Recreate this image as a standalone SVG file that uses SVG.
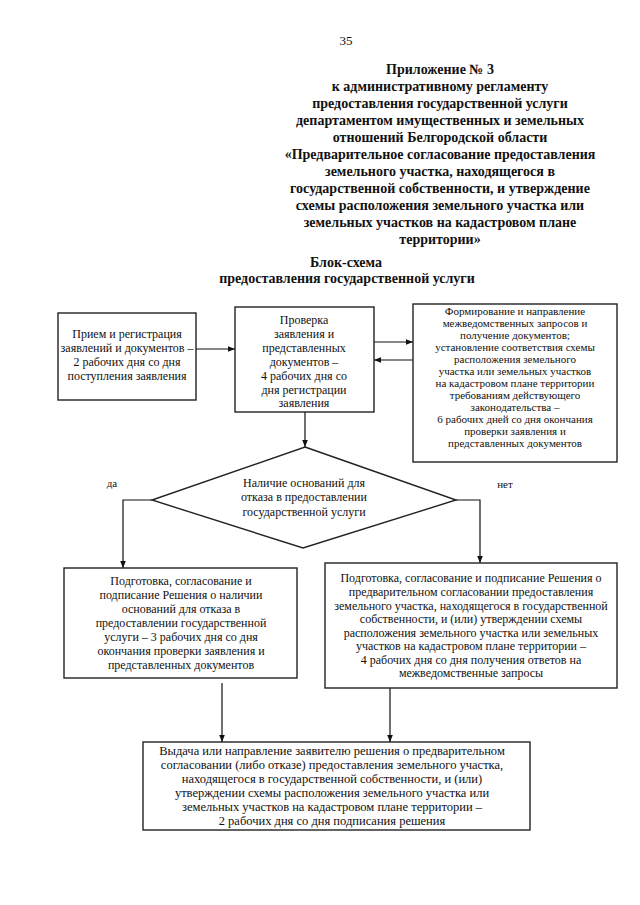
<svg xmlns="http://www.w3.org/2000/svg" width="640" height="905" viewBox="0 0 640 905">
<defs>
<marker id="ah" viewBox="0 0 10 10" refX="10" refY="5" markerWidth="7" markerHeight="7" orient="auto" markerUnits="userSpaceOnUse">
<path d="M0,1 L10,5 L0,9 z" fill="#111"/>
</marker>
<style>
.t{font-family:"Liberation Serif","Times New Roman","DejaVu Serif",serif;fill:#111;text-anchor:middle}
.h{font-size:14px;font-weight:bold}
.b{font-size:12px}
.w{font-size:12.5px}
.s{font-size:11px}
.box{fill:#fff;stroke:#222;stroke-width:1.4}
.ln{fill:none;stroke:#111;stroke-width:1.2}
</style>
</defs>
<rect width="640" height="905" fill="#fff"/>
<g id="header">
<text class="t" x="346" y="45" style="font-size:13px">35</text>
<text class="t h" x="440" y="74">Приложение № 3</text>
<text class="t h" x="440" y="91">к административному регламенту</text>
<text class="t h" x="440" y="108">предоставления государственной услуги</text>
<text class="t h" x="440" y="125">департаментом имущественных и земельных</text>
<text class="t h" x="440" y="142">отношений Белгородской области</text>
<text class="t h" x="440" y="159">«Предварительное согласование предоставления</text>
<text class="t h" x="440" y="176">земельного участка, находящегося в</text>
<text class="t h" x="440" y="193">государственной собственности, и утверждение</text>
<text class="t h" x="440" y="210">схемы расположения земельного участка или</text>
<text class="t h" x="440" y="227">земельных участков на кадастровом плане</text>
<text class="t h" x="440" y="244">территории»</text>
<text class="t h" x="346" y="267">Блок-схема</text>
<text class="t h" x="347" y="283">предоставления государственной услуги</text>
</g>
<g id="connectors">
<line class="ln" x1="196" y1="349" x2="235" y2="349" marker-end="url(#ah)"/>
<line class="ln" x1="374" y1="342" x2="413" y2="342" marker-end="url(#ah)"/>
<line class="ln" x1="413" y1="360" x2="374" y2="360" marker-end="url(#ah)"/>
<line class="ln" x1="305" y1="412" x2="305" y2="447" marker-end="url(#ah)"/>
<polyline class="ln" points="152,500 123,500 123,568" marker-end="url(#ah)"/>
<polyline class="ln" points="456,500 480,500 480,563" marker-end="url(#ah)"/>
<line class="ln" x1="222" y1="683" x2="222" y2="742" marker-end="url(#ah)"/>
<line class="ln" x1="390" y1="688" x2="390" y2="742" marker-end="url(#ah)"/>
</g>
<g id="n1">
<rect class="box" x="58" y="313" width="138" height="87"/>
<text class="t b" x="127" y="338">Прием и регистрация</text>
<text class="t b" x="127" y="352">заявлений и документов –</text>
<text class="t b" x="127" y="366">2 рабочих дня со дня</text>
<text class="t b" x="127" y="380">поступления заявления</text>
</g>
<g id="n2">
<rect class="box" x="235" y="307" width="139" height="105"/>
<text class="t b" x="304" y="324">Проверка</text>
<text class="t b" x="304" y="338">заявления и</text>
<text class="t b" x="304" y="352">представленных</text>
<text class="t b" x="304" y="366">документов –</text>
<text class="t b" x="304" y="380">4 рабочих дня со</text>
<text class="t b" x="304" y="394">дня регистрации</text>
<text class="t b" x="304" y="407">заявления</text>
</g>
<g id="n3">
<rect class="box" x="413" y="304" width="204" height="158"/>
<text class="t s" x="515" y="315">Формирование и направление</text>
<text class="t s" x="515" y="327">межведомственных запросов и</text>
<text class="t s" x="515" y="339">получение документов;</text>
<text class="t s" x="515" y="351">установление соответствия схемы</text>
<text class="t s" x="515" y="363">расположения земельного</text>
<text class="t s" x="515" y="375">участка или земельных участков</text>
<text class="t s" x="515" y="387">на кадастровом плане территории</text>
<text class="t s" x="515" y="399">требованиям действующего</text>
<text class="t s" x="515" y="411">законодательства –</text>
<text class="t s" x="515" y="423">6 рабочих дней со дня окончания</text>
<text class="t s" x="515" y="435">проверки заявления и</text>
<text class="t s" x="515" y="447">представленных документов</text>
</g>
<g id="n4">
<polygon class="box" points="305,447 456,500 303,548 152,500"/>
<text class="t b" x="304" y="487">Наличие оснований для</text>
<text class="t b" x="304" y="501">отказа в предоставлении</text>
<text class="t b" x="304" y="516">государственной услуги</text>
</g>
<g id="labels">
<text class="t s" x="112" y="487">да</text>
<text class="t s" x="505" y="488">нет</text>
</g>
<g id="n5">
<rect class="box" x="64" y="568" width="233" height="110"/>
<text class="t b" x="181" y="585">Подготовка, согласование и</text>
<text class="t b" x="181" y="599">подписание Решения о наличии</text>
<text class="t b" x="181" y="613">оснований для отказа в</text>
<text class="t b" x="181" y="627">предоставлении государственной</text>
<text class="t b" x="181" y="641">услуги – 3 рабочих дня со дня</text>
<text class="t b" x="181" y="655">окончания проверки заявления и</text>
<text class="t b" x="181" y="669">представленных документов</text>
</g>
<g id="n6">
<rect class="box" x="325" y="563" width="292" height="125"/>
<text class="t b" x="471" y="582">Подготовка, согласование и подписание Решения о</text>
<text class="t b" x="471" y="596">предварительном согласовании предоставления</text>
<text class="t b" x="471" y="610">земельного участка, находящегося в государственной</text>
<text class="t b" x="471" y="623">собственности, и (или) утверждении схемы</text>
<text class="t b" x="471" y="637">расположения земельного участка или земельных</text>
<text class="t b" x="471" y="650">участков на кадастровом плане территории –</text>
<text class="t b" x="471" y="664">4 рабочих дня со дня получения ответов на</text>
<text class="t b" x="471" y="677">межведомственные запросы</text>
</g>
<g id="n7">
<rect class="box" x="143" y="742" width="387" height="88"/>
<text class="t w" x="332" y="755">Выдача или направление заявителю решения о предварительном</text>
<text class="t w" x="332" y="769">согласовании (либо отказе) предоставления земельного участка,</text>
<text class="t w" x="332" y="783">находящегося в государственной собственности, и (или)</text>
<text class="t w" x="332" y="797">утверждении схемы расположения земельного участка или</text>
<text class="t w" x="332" y="811">земельных участков на кадастровом плане территории –</text>
<text class="t w" x="332" y="825">2 рабочих дня со дня подписания решения</text>
</g>
</svg>
